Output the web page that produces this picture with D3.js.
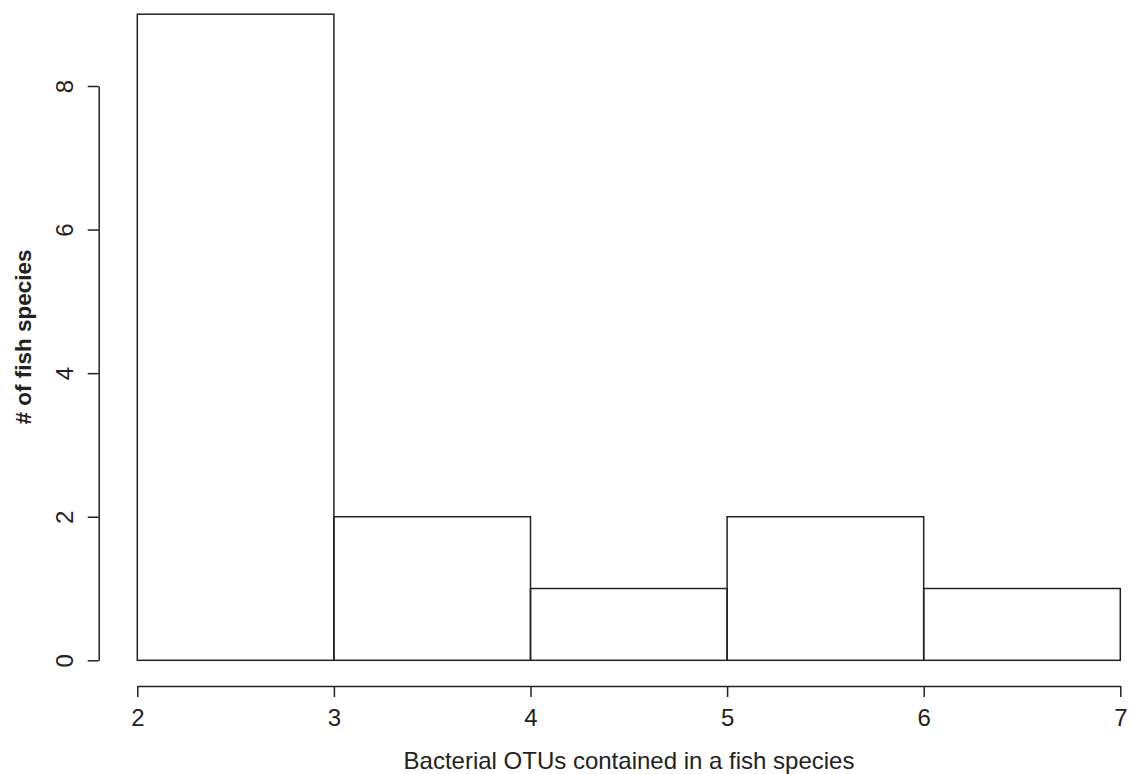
<!DOCTYPE html>
<html><head><meta charset="utf-8">
<script src="https://cdn.jsdelivr.net/npm/d3@7"></script>
<style>body{margin:0;background:#fff}svg{display:block}text{font-family:"Liberation Sans",Arial,sans-serif;fill:#222}</style>
</head><body><svg id="c" width="1131" height="774"></svg>
<script>
const binEdges = [2, 3, 4, 5, 6, 7];
const counts = [9, 2, 1, 2, 1];
const xTicks = [2, 3, 4, 5, 6, 7];
const yTicks = [0, 2, 4, 6, 8];
const xLabel = "Bacterial OTUs contained in a fish species";
const yLabel = "# of fish species";

const svg = d3.select("#c");
const x = d3.scaleLinear().domain([2, 7]).range([137.3, 1120.3]);
const y = d3.scaleLinear().domain([0, 8]).range([660.3, 86]);
const stroke = "#222", sw = 1.5, fs = 24;

const bins = counts.map((c, i) => ({x0: binEdges[i], x1: binEdges[i + 1], c}));
svg.append("g").selectAll("rect").data(bins).join("rect")
  .attr("x", d => x(d.x0)).attr("width", d => x(d.x1) - x(d.x0))
  .attr("y", d => y(d.c)).attr("height", d => y(0) - y(d.c))
  .attr("fill", "none").attr("stroke", stroke).attr("stroke-width", sw);

const xa = svg.append("g").attr("transform", "translate(0,686)")
  .call(d3.axisBottom(x).tickValues(xTicks).tickSize(11).tickPadding(12).tickSizeOuter(0).tickFormat(d3.format("d")));
xa.select(".domain").attr("stroke", stroke).attr("stroke-width", sw);
xa.selectAll(".tick line").attr("stroke", stroke).attr("stroke-width", sw);
xa.selectAll("text").attr("font-size", fs).attr("font-family", null).style("fill", "#222");

const ya = svg.append("g").attr("transform", "translate(98.7,0)")
  .call(d3.axisLeft(y).tickValues(yTicks).tickSize(11).tickSizeOuter(0).tickFormat(d3.format("d")));
ya.select(".domain").attr("stroke", stroke).attr("stroke-width", sw);
ya.selectAll(".tick line").attr("stroke", stroke).attr("stroke-width", sw);
ya.selectAll(".tick text").attr("x", null).attr("dy", null)
  .attr("transform", "translate(-26,0) rotate(-90)").attr("text-anchor", "middle")
  .attr("dominant-baseline", "auto").attr("y", 0).attr("font-size", fs).attr("font-family", null).style("fill", "#222");

svg.append("text").attr("x", 629).attr("y", 769).attr("text-anchor", "middle").attr("font-size", fs).text(xLabel);
svg.append("text").attr("transform", "translate(31,337) rotate(-90)").attr("text-anchor", "middle")
  .attr("font-size", 22.5).attr("font-weight", "bold").text(yLabel);
</script></body></html>
